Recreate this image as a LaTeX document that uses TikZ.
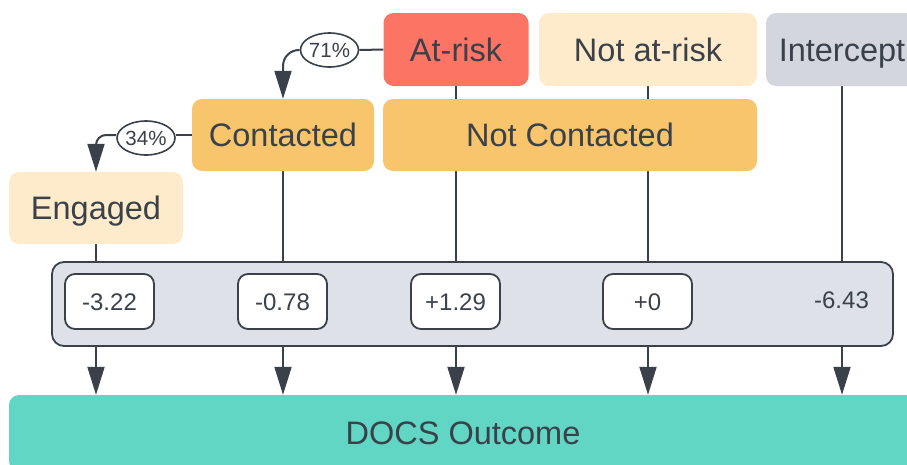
\documentclass[tikz,border=0pt]{standalone}
\usepackage{fontspec}
\setmainfont{Liberation Sans}
\usetikzlibrary{arrows.meta,shapes.geometric,backgrounds}
\definecolor{ink}{HTML}{3A414A}
\definecolor{riskred}{HTML}{FC7464}
\definecolor{cream}{HTML}{FEEBCC}
\definecolor{orangebox}{HTML}{F8C56C}
\definecolor{greybox}{HTML}{D3D6DC}
\definecolor{panel}{HTML}{DEE2E8}
\definecolor{teal}{HTML}{62D6C4}
\tikzset{
  box/.style={rectangle, rounded corners=10pt, draw=none, inner sep=0pt,
    font=\fontsize{32.5}{38}\selectfont, text=ink, text height=23pt, text depth=0pt},
  valbox/.style={rectangle, rounded corners=10pt, draw=ink, line width=1.8pt, fill=white,
    minimum width=89pt, minimum height=55pt, inner sep=0pt,
    font=\fontsize{24}{28}\selectfont, text=ink, text height=17pt, text depth=0pt},
  pct/.style={ellipse, draw=ink, line width=1.6pt, fill=white, minimum width=55pt,
    minimum height=34pt, inner sep=0pt, font=\fontsize{20.5}{24}\selectfont, text=ink,
    text height=14.5pt, text depth=0pt},
  conn/.style={draw=ink, line width=2pt},
  arr/.style={conn, -{Triangle[length=28pt,width=17pt]}}
}
\begin{document}
\begin{tikzpicture}[x=1pt,y=-1pt]
\useasboundingbox (0,0) rectangle (907,464);
% top row
\node[box, fill=riskred, minimum width=145pt, minimum height=73pt] (atrisk) at (456,49.5) {At-risk};
\node[box, fill=cream, minimum width=218pt, minimum height=73pt] (notatrisk) at (648,49.5) {Not at-risk};
\node[box, fill=greybox, minimum width=152pt, minimum height=73pt] (intercept) at (842,49.5) {Intercept};
% second row
\node[box, fill=orangebox, minimum width=182pt, minimum height=72pt] (contacted) at (283,135) {Contacted};
\node[box, fill=orangebox, minimum width=374pt, minimum height=72pt] (notcontacted) at (570,135) {Not Contacted};
% third row
\node[box, fill=cream, minimum width=174pt, minimum height=72pt] (engaged) at (96,208) {Engaged};
% panel of coefficients
\node[rectangle, rounded corners=12pt, draw=ink, line width=1.8pt, fill=panel,
  minimum width=841pt, minimum height=84pt, inner sep=0pt] (panel) at (472.5,304) {};
\node[valbox] (v1) at (109.5,301.5) {-3.22};
\node[valbox] (v2) at (282.5,301.5) {-0.78};
\node[valbox] (v3) at (455.5,301.5) {+1.29};
\node[valbox] (v4) at (647.5,301.5) {+0};
\node[font=\fontsize{24}{28}\selectfont, text=ink, text height=17pt, text depth=0pt, inner sep=0pt] (v5) at (841.5,300) {-6.43};
% outcome
\node[box, fill=teal, minimum width=908pt, minimum height=76pt] (outcome) at (463,433) {DOCS Outcome};
% percentage labels
\node[pct] (p71) at (329.5,50) {71\%};
\node[pct] (p34) at (146,138) {34\%};
\begin{pgfonlayer}{background}
  \draw[conn] (engaged.south) -- (engaged.south |- panel.north);
  \draw[conn] (contacted.south) -- (contacted.south |- panel.north);
  \draw[conn] (atrisk.south) -- (atrisk.south |- panel.north);
  \draw[conn] (notatrisk.south) -- (notatrisk.south |- panel.north);
  \draw[conn] (intercept.south) -- (intercept.south |- panel.north);
  \draw[arr] (engaged |- panel.south) -- (engaged |- outcome.north);
  \draw[arr] (contacted |- panel.south) -- (contacted |- outcome.north);
  \draw[arr] (atrisk |- panel.south) -- (atrisk |- outcome.north);
  \draw[arr] (notatrisk |- panel.south) -- (notatrisk |- outcome.north);
  \draw[arr] (intercept |- panel.south) -- (intercept |- outcome.north);
  \draw[conn] (atrisk.west) -- (p71.east);
  \draw[arr, rounded corners=16pt] (p71.west) -| (contacted.north);
  \draw[conn] (contacted.west) -- (p34.east |- contacted.west);
  \draw[arr, rounded corners=10pt] (p34.west |- contacted.west) -| (engaged.north);
\end{pgfonlayer}
\end{tikzpicture}
\end{document}
